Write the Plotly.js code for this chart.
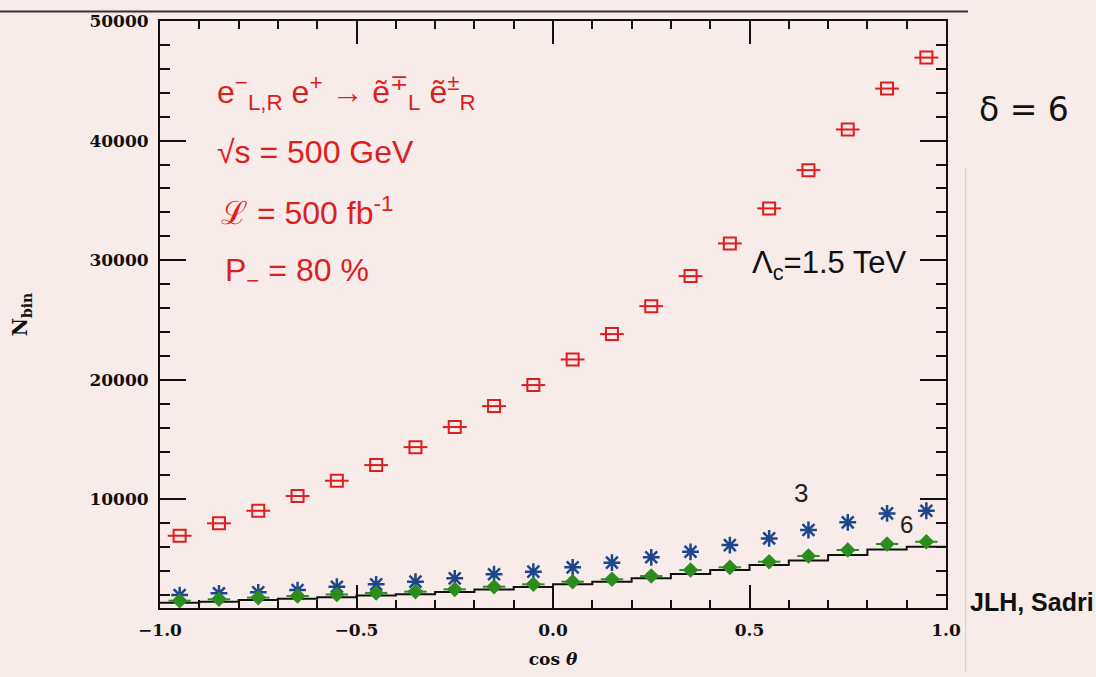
<!DOCTYPE html>
<html>
<head>
<meta charset="utf-8">
<script src="https://cdn.plot.ly/plotly-3.0.1.min.js"></script>
<style>html,body{margin:0;padding:0;background:#f7ece9;}</style>
</head>
<body>
<div id="chart" style="width:1096px;height:677px;"></div>
<script>
// bin centres of cos(theta)
const binCenters = [-0.95,-0.85,-0.75,-0.65,-0.55,-0.45,-0.35,-0.25,-0.15,-0.05,
                     0.05, 0.15, 0.25, 0.35, 0.45, 0.55, 0.65, 0.75, 0.85, 0.95];
// red open squares: Lambda_c = 1.5 TeV
const redCounts = [6960,8000,9050,10280,11560,12870,14370,16050,17800,19560,
                   21700,23820,26160,28670,31400,34330,37530,40930,44350,46940];
// blue asterisks: delta = 3
const blueCounts = [2000,2150,2230,2420,2700,2900,3120,3400,3740,3960,
                    4320,4710,5160,5620,6180,6740,7440,8080,8830,9050];
// green diamonds: delta = 6
const greenCounts = [1530,1650,1790,1920,2050,2180,2290,2480,2700,2900,
                     3120,3320,3590,4100,4320,4790,5270,5770,6270,6460];
// black histogram: Standard Model expectation
const smCounts = [1350,1450,1580,1700,1820,1960,2080,2260,2460,2680,
                  2900,3120,3400,3760,4100,4510,4900,5350,5820,6040];
const binHalfWidth = 0.05;
const xTickVals = [-1.0,-0.5,0.0,0.5,1.0];
const yTickVals = [10000,20000,30000,40000,50000];

const histX = binCenters.map(c => c - binHalfWidth).concat([binCenters[binCenters.length-1] + binHalfWidth]);
const histY = smCounts.concat([smCounts[smCounts.length-1]]);

const red = 'rgb(222,30,30)';
const blue = 'rgb(30,70,140)';
const green = 'rgb(45,140,30)';

const traces = [
  {x: histX, y: histY, type:'scatter', mode:'lines', line:{shape:'hv', color:'#111', width:2}, hoverinfo:'skip'},
  {x: binCenters, y: redCounts, type:'scatter', mode:'markers',
   marker:{symbol:'square-open', size:12, color:red, line:{color:red, width:2}}},
  {x: binCenters, y: redCounts, type:'scatter', mode:'markers',
   marker:{symbol:'line-ew', size:17, color:red, line:{color:red, width:2}}},
  {x: binCenters, y: blueCounts, type:'scatter', mode:'markers',
   marker:{symbol:'asterisk-open', size:14, color:blue, line:{color:blue, width:2.5}}},
  {x: binCenters, y: greenCounts, type:'scatter', mode:'markers',
   marker:{symbol:'diamond', size:12, color:green, line:{color:green, width:0}}},
  {x: binCenters, y: greenCounts, type:'scatter', mode:'markers',
   marker:{symbol:'line-ew', size:16, color:green, line:{color:green, width:2}}}
];

const tickFont = {family:'DejaVu Serif, serif', size:17, color:'#111', weight:'bold'};
const handFont = {family:'Liberation Sans, Arial, sans-serif', size:32, color:red};

const layout = {
  width:1096, height:677,
  margin:{l:160, r:150, t:21, b:69},
  paper_bgcolor:'#f7ece9', plot_bgcolor:'#f7ece9',
  showlegend:false,
  xaxis:{
    range:[-1,1], tickvals:xTickVals, tickformat:'.1f',
    ticks:'inside', ticklen:23, tickwidth:2, tickcolor:'#111',
    minor:{dtick:0.1, tick0:-1, ticks:'inside', ticklen:8, tickwidth:2, tickcolor:'#111', showgrid:false},
    showline:true, linewidth:2, linecolor:'#111', mirror:'allticks',
    showgrid:false, zeroline:false, tickfont:tickFont, ticklabelstandoff:6,
    title:{text:'cos <i>θ</i>', font:{family:'DejaVu Serif, serif', size:17, color:'#111', weight:'bold'}, standoff:14}
  },
  yaxis:{
    range:[920,50000], tickvals:yTickVals, tickformat:'d',
    ticks:'inside', ticklen:26, tickwidth:2, tickcolor:'#111',
    minor:{dtick:2000, tick0:0, ticks:'inside', ticklen:10, tickwidth:2, tickcolor:'#111', showgrid:false},
    showline:true, linewidth:2, linecolor:'#111', mirror:'allticks',
    showgrid:false, zeroline:false, tickfont:tickFont, ticklabelstandoff:6,
    title:{text:'N<sub>bin</sub>', font:{family:'DejaVu Serif, serif', size:20, color:'#111', weight:'bold'}, standoff:56}
  },
  shapes:[
    {type:'line', xref:'paper', yref:'paper', x0:-0.21, x1:1.028, y0:1.016, y1:1.016, line:{color:'#333', width:2}},
    {type:'line', xref:'paper', yref:'paper', x0:1.025, x1:1.025, y0:-0.11, y1:0.75, line:{color:'rgba(120,120,120,0.25)', width:1}}
  ],
  annotations:[
    {xref:'paper', yref:'paper', x:0.07, y:0.878, xanchor:'left', yanchor:'middle', showarrow:false,
     text:'e<sup>−</sup><sub>L,R</sub> e<sup>+</sup> → ẽ<sup>∓</sup><sub>L</sub> ẽ<sup>±</sup><sub>R</sub>', font:handFont},
    {xref:'paper', yref:'paper', x:0.07, y:0.776, xanchor:'left', yanchor:'middle', showarrow:false,
     text:'√s = 500 GeV', font:handFont},
    {xref:'paper', yref:'paper', x:0.075, y:0.676, xanchor:'left', yanchor:'middle', showarrow:false,
     text:'ℒ = 500 fb<sup>-1</sup>', font:handFont},
    {xref:'paper', yref:'paper', x:0.08, y:0.572, xanchor:'left', yanchor:'middle', showarrow:false,
     text:'P<sub>−</sub> = 80 %', font:handFont},
    {xref:'paper', yref:'paper', x:0.75, y:0.585, xanchor:'left', yanchor:'middle', showarrow:false,
     text:'Λ<sub>c</sub>=1.5 TeV', font:{family:'Liberation Sans, Arial, sans-serif', size:31, color:'#111'}},
    {xref:'paper', yref:'paper', x:1.04, y:0.85, xanchor:'left', yanchor:'middle', showarrow:false,
     text:'δ = 6', font:{family:'DejaVu Sans, sans-serif', size:33, color:'#111'}},
    {xref:'paper', yref:'paper', x:1.028, y:0.01, xanchor:'left', yanchor:'middle', showarrow:false,
     text:'JLH, Sadri', font:{family:'Liberation Sans, Arial, sans-serif', size:25, color:'#111', weight:'bold'}},
    {xref:'x', yref:'y', x:0.63, y:10500, xanchor:'center', yanchor:'middle', showarrow:false,
     text:'3', font:{family:'Liberation Sans, Arial, sans-serif', size:26, color:'#222'}},
    {xref:'x', yref:'y', x:0.9, y:7900, xanchor:'center', yanchor:'middle', showarrow:false,
     text:'6', font:{family:'Liberation Sans, Arial, sans-serif', size:24, color:'#222'}}
  ]
};

Plotly.newPlot('chart', traces, layout, {displayModeBar:false, staticPlot:true});
</script>
</body>
</html>
